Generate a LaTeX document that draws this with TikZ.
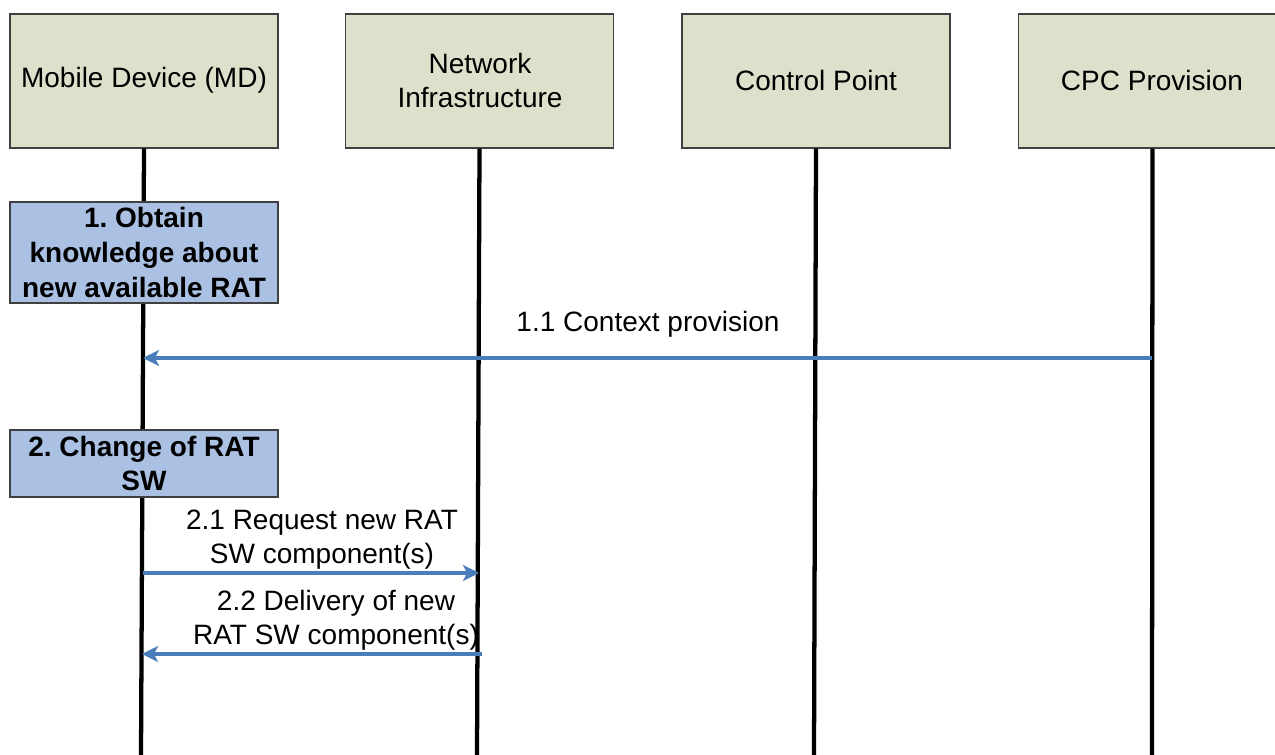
\documentclass[tikz,border=0pt]{standalone}
\usepackage{fontspec}
\setmainfont{Liberation Sans}
\frenchspacing
\usetikzlibrary{arrows.meta}
\definecolor{headfill}{HTML}{DDE0CB}
\definecolor{phasefill}{HTML}{ABC1E3}
\definecolor{msgblue}{HTML}{4A7EBB}
\definecolor{boxline}{HTML}{404040}
\tikzset{
  entity/.style={draw=boxline, line width=0.8pt, fill=headfill, inner sep=0pt,
    minimum width=201pt, minimum height=100.5pt, align=center,
    font=\fontsize{21}{25.5}\selectfont},
  phase/.style={draw=boxline, line width=0.8pt, fill=phasefill, inner sep=0pt,
    minimum width=201pt, align=center,
    font=\fontsize{21}{26}\selectfont\bfseries},
  lifeline/.style={line width=3.2pt, black},
  msg/.style={line width=2.3pt, msgblue,
    -{Stealth[length=12pt, width=12pt, inset=3pt]}},
  msglabel/.style={align=center, inner sep=0pt,
    font=\fontsize{21}{25.5}\selectfont}
}
\begin{document}
\begin{tikzpicture}[x=0.75pt, y=-0.75pt]
\useasboundingbox (0,0) rectangle (1275,755);
\clip (0,0) rectangle (1275,755);

% participants
\node[entity] (md)  at (144,81)    {};
\node[entity] (ni)  at (479.5,81)  {};
\node[entity] (cp)  at (816,81)    {};
\node[entity] (cpc) at (1152.5,81) {};
\node (mdt)  at (144,80)  [font=\fontsize{21}{25.5}\selectfont] {Mobile Device (MD)};
\node (nit)  at (480,80)  [font=\fontsize{21}{25.5}\selectfont, align=center] {Network\\Infrastructure};
\node (cpt)  at (816,80)  [font=\fontsize{21}{25.5}\selectfont] {Control Point};
\node (cpct) at (1152,80) [font=\fontsize{21}{25.5}\selectfont] {CPC Provision};

% lifeline ends
\coordinate (mdend)  at (141,756);
\coordinate (niend)  at (477,756);
\coordinate (cpend)  at (814,756);
\coordinate (cpcend) at (1152,756);

\draw[lifeline] (md.south)  -- (mdend);
\draw[lifeline] (ni.south)  -- (niend);
\draw[lifeline] (cp.south)  -- (cpend);
\draw[lifeline] (cpc.south) -- (cpcend);

% phases on the mobile device
\node[phase, minimum height=75.75pt] (p1) at (144,252.5)
  {1. Obtain\\knowledge about\\new available RAT};
\node[phase, minimum height=50.25pt] (p2) at (144,463.5)
  {2. Change of RAT\\SW};

% message anchors on the lifelines
\coordinate (m11s) at (1152,358);
\coordinate (m11e) at (143,358);
\coordinate (m21s) at (142.5,573);
\coordinate (m21e) at (479,573);
\coordinate (m22s) at (482,654);
\coordinate (m22e) at (142,654);

\draw[msg] (m11s) -- (m11e);
\draw[msg] (m21s) -- (m21e);
\draw[msg] (m22s) -- (m22e);

\node[msglabel] (l11) at (648,324) {1.1 Context provision};
\node[msglabel] (l21) at (322,540) {2.1 Request new RAT\\SW component(s)};
\node[msglabel] (l22) at (336,620) {2.2 Delivery of new\\RAT SW component(s)};
\end{tikzpicture}
\end{document}
